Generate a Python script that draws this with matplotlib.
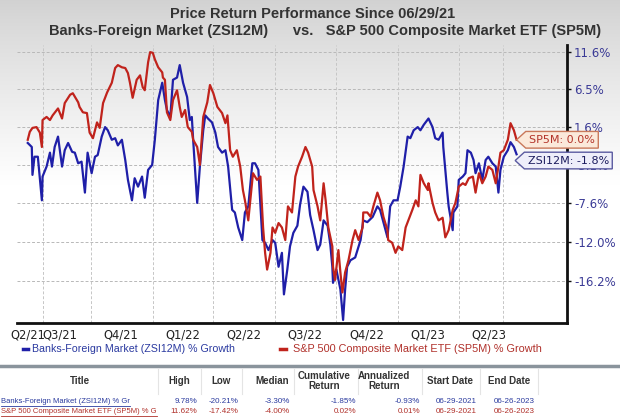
import numpy as np
import pandas as pd
import matplotlib
matplotlib.use("Agg")
import matplotlib.pyplot as plt
from matplotlib.path import Path
from matplotlib.lines import Line2D

# ---------------- data ----------------
start_date = "2021-06-29"
end_date = "2023-06-26"

zsi_days = [0, 6, 7, 10, 15, 21, 22, 28, 33, 36, 40, 45, 51, 55, 60, 66, 70, 75, 80, 85,
            89, 95, 100, 104, 110, 115, 119, 125, 130, 134, 140, 145, 149, 155, 159, 164, 170, 174, 179, 185,
            189, 194, 200, 204, 207, 212, 216, 222, 226, 231, 237, 241, 244, 246, 252, 256, 261, 264, 268, 274,
            279, 283, 289, 294, 298, 304, 308, 313, 319, 323, 328, 334, 338, 343, 349, 353, 358, 364, 368, 373,
            378, 381, 386, 390, 395, 401, 405, 410, 416, 420, 425, 431, 435, 440, 446, 450, 453, 454, 459, 465,
            469, 472, 475, 480, 487, 495, 499, 505, 513, 520, 524, 532, 535, 539, 544, 550, 554, 559, 565, 569,
            574, 580, 584, 589, 596, 602, 606, 611, 617, 618, 624, 626, 632, 633, 639, 641, 647, 651, 654, 659,
            663, 666, 671, 676, 681, 685, 691, 696, 700, 703, 708, 714, 718, 723, 727]
zsi_vals = [-0.4, -0.9, -4.3, -2.1, -2.1, -7.3, -4.5, -3.3, -1.6, -3.3, -0.9, 0.4, -3.3, -1.3, -0.4, -1.5, -1.6, -2.9, -2.7, -6.4,
            -1.6, -4.1, -2.1, -1.9, 0.4, 1.6, 1.2, 0.0, 0.2, -0.7, 0.0, -2.5, -4.9, -7.3, -4.7, -5.7, -4.5, -7.0, -3.7, -3.1,
            0.0, 5.1, 7.4, 5.1, 3.8, 2.9, 7.8, 8.1, 9.8, 7.4, 5.5, 2.5, 2.9, 0.0, -7.6, -3.3, 1.2, 3.1, 2.7, 2.2,
            0.9, -0.9, -1.6, -1.3, -3.3, -8.4, -8.7, -10.4, -11.8, -8.7, -8.0, -2.9, -2.9, -3.7, -11.8, -12.1, -12.9, -11.8, -12.1, -14.7,
            -13.2, -17.6, -15.0, -12.5, -11.0, -10.2, -7.8, -5.7, -6.3, -9.0, -10.7, -12.9, -12.3, -9.6, -10.2, -12.3, -14.7, -16.4, -15.0, -17.1,
            -20.2, -17.1, -14.7, -14.0, -13.7, -11.8, -9.6, -9.8, -9.2, -8.0, -8.4, -10.7, -11.5, -8.0, -7.3, -7.3, -5.7, -3.3, 0.4, 0.2,
            1.2, 1.6, 1.2, 1.9, 2.7, 1.6, 0.2, 0.0, 0.9, -0.9, -6.4, -8.0, -10.7, -8.7, -8.0, -4.9, -4.5, -4.1, -1.3, -1.6,
            -2.5, -4.1, -2.9, -4.9, -2.5, -2.1, -2.9, -3.3, -6.4, -3.7, -2.1, -1.3, -0.3, -0.9, -1.8]

sp5_days = [0, 3, 7, 13, 18, 21, 22, 28, 33, 37, 45, 51, 55, 63, 67, 75, 77, 82, 88, 92,
            97, 103, 107, 112, 118, 125, 130, 134, 140, 145, 149, 152, 156, 162, 167, 171, 174, 179, 182, 186,
            189, 194, 200, 201, 204, 207, 212, 216, 222, 226, 229, 234, 238, 244, 246, 252, 256, 261, 267, 271,
            276, 282, 289, 294, 297, 301, 305, 311, 316, 320, 323, 328, 331, 335, 341, 346, 350, 353, 356, 361,
            364, 368, 373, 378, 383, 387, 393, 398, 402, 408, 413, 417, 423, 425, 431, 435, 440, 443, 447, 453,
            454, 457, 462, 465, 468, 472, 477, 483, 487, 492, 498, 499, 505, 510, 514, 520, 524, 529, 535, 536,
            542, 547, 551, 557, 562, 566, 572, 577, 581, 584, 589, 595, 596, 602, 606, 611, 617, 621, 626, 632,
            636, 641, 647, 651, 656, 662, 666, 671, 676, 681, 685, 691, 696, 700, 703, 708, 714, 718, 723, 727]
sp5_vals = [0.0, 1.0, 1.5, 1.6, 0.9, -0.9, 2.5, 2.9, 2.5, 3.1, 4.0, 2.7, 4.7, 5.8, 6.0, 4.8, 4.2, 3.5, 3.4, 0.9,
            0.2, 2.2, 1.5, 4.7, 6.1, 7.4, 9.4, 9.8, 9.5, 9.4, 8.7, 7.4, 5.4, 7.8, 8.4, 6.8, 6.4, 10.2, 11.6, 11.5,
            10.6, 9.5, 8.8, 8.1, 7.8, 3.5, 2.5, 5.1, 6.4, 4.2, 2.9, 3.8, 1.6, 1.0, 0.0, -0.9, -3.1, 2.9, 4.8, 7.1,
            6.0, 4.2, 3.4, 2.1, 3.1, -1.3, -2.1, -1.3, -3.3, -6.1, -7.3, -9.6, -7.3, -4.1, -4.9, -4.5, -10.4, -13.2, -15.0, -13.2,
            -10.4, -11.0, -9.9, -10.4, -11.8, -8.0, -8.7, -4.5, -3.3, -2.1, -0.9, -1.6, -3.3, -6.1, -8.0, -9.6, -5.3, -7.3, -10.4, -12.5,
            -14.7, -16.1, -12.9, -15.3, -17.4, -15.3, -14.0, -11.8, -10.7, -11.8, -10.4, -8.7, -8.7, -9.2, -8.0, -6.4, -7.3, -9.2, -10.7, -11.8,
            -12.1, -13.2, -12.5, -12.9, -10.4, -9.6, -8.4, -7.3, -8.0, -4.3, -5.3, -6.1, -5.3, -7.6, -8.7, -9.6, -9.3, -11.5, -10.7, -8.4,
            -7.6, -5.7, -5.3, -5.5, -4.7, -4.5, -6.4, -4.1, -5.3, -4.5, -3.3, -3.7, -5.3, -3.3, -1.6, -1.3, 0.0, 2.1, 1.2, 0.0]

y_ticks = [11.6, 6.5, 1.6, -3.1, -7.6, -12.0, -16.2]
y_tick_labels = ["11.6%", "6.5%", "1.6%", "-3.1%", "-7.6%", "-12.0%", "-16.2%"]
quarter_labels = ["Q2/21", "Q3/21", "Q4/21", "Q1/22", "Q2/22", "Q3/22", "Q4/22", "Q1/23", "Q2/23"]
quarter_label_dates = ["2021-06-29", "2021-08-15", "2021-11-15", "2022-02-14", "2022-05-16",
                       "2022-08-15", "2022-11-15", "2023-02-14", "2023-05-16"]
grid_dates = ["2021-07-21", "2021-10-01", "2022-01-01", "2022-04-01", "2022-07-01",
              "2022-10-01", "2023-01-01", "2023-04-01", "2023-06-06"]
x_limit_dates = ["2021-06-13", "2023-09-09"]
y_limits = [-20.5, 12.6]

zsi_name = "Banks-Foreign Market (ZSI12M) % Growth"
sp5_name = "S&P 500 Composite Market ETF (SP5M) % Growth"
zsi_tag = "ZSI12M: -1.8%"
sp5_tag = "SP5M: 0.0%"

table_header = ["Title", "High", "Low", "Median", "Cumulative\nReturn", "Annualized\nReturn", "Start Date", "End Date"]
table_rows = [
    ["Banks-Foreign Market (ZSI12M) % Gr", "9.78%", "-20.21%", "-3.30%", "-1.85%", "-0.93%", "06-29-2021", "06-26-2023"],
    ["S&P 500 Composite Market ETF (SP5M) % G", "11.62%", "-17.42%", "-4.00%", "0.02%", "0.01%", "06-29-2021", "06-26-2023"],
]

# ---------------- styles ----------------
BLUE = "#1f1fa8"
RED = "#c0231c"
W, H = 620, 419
start = pd.Timestamp(start_date)


def to_day(d):
    return (pd.Timestamp(d) - start).days


def fx(px):
    return px / W


def fy(py):
    return 1 - py / H


fig = plt.figure(figsize=(W / 100, H / 100), dpi=100)

# background gradient
bg = fig.add_axes([0, 0, 1, 1], zorder=-10)
rows = np.arange(H)
g = 0.82 + 0.18 * np.clip(rows / 185.0, 0, 1) ** 0.85
img = np.repeat(g[:, None], 4, axis=1)
bg.imshow(np.dstack([img, img, img]), aspect="auto", extent=[0, 1, 0, 1])
bg.set_axis_off()

ax = fig.add_axes([fx(17), fy(323), fx(567) - fx(17), fy(45) - fy(323)])
ax.set_facecolor("none")


def fwd(v):
    return np.log1p(np.asarray(v, dtype=float) / 100.0)


def inv(z):
    return 100.0 * np.expm1(z)


ax.set_yscale("function", functions=(fwd, inv))
ax.set_ylim(*y_limits)
ax.set_xlim(to_day(x_limit_dates[0]), to_day(x_limit_dates[1]))

ax.plot(zsi_days, zsi_vals, color=BLUE, lw=1.6, solid_joinstyle="round", zorder=3)
ax.plot(sp5_days, sp5_vals, color=RED, lw=1.6, solid_joinstyle="round", zorder=4)

# grid
for v in y_ticks:
    ax.axhline(v, color="#b8b8b8", lw=0.7, ls=(0, (3, 2)), zorder=1)
for d in grid_dates:
    ax.axvline(to_day(d), color="#c6c6c6", lw=0.7, ls=(0, (3, 2)), zorder=1)

# axes
for s in ["left", "top"]:
    ax.spines[s].set_visible(False)
for s in ["right", "bottom"]:
    ax.spines[s].set_linewidth(2.0)
    ax.spines[s].set_color("#111111")
ax.yaxis.tick_right()
ax.set_yticks(y_ticks)
ax.set_yticklabels(y_tick_labels)
ax.yaxis.set_minor_locator(matplotlib.ticker.NullLocator())
ax.tick_params(axis="y", direction="out", length=3, width=1, pad=2,
               labelsize=8.5, labelcolor="#3b3b96", colors="#111111")
ax.set_xticks([to_day(d) for d in quarter_label_dates])
ax.set_xticklabels(quarter_labels)
ax.tick_params(axis="x", length=0, pad=4, labelsize=8.3, labelcolor="#222222")
for lab in ax.get_yticklabels():
    lab.set_color("#3b3b96")


# tag-shaped labels
def tag_box(x0, y0, width, height, mutation_size):
    pad = 0.3 * mutation_size
    x0 -= pad
    y0 -= pad
    width += 2 * pad
    height += 2 * pad
    x1, y1 = x0 + width, y0 + height
    tip = height * 0.55
    verts = [(x0, y0), (x1, y0), (x1, y1), (x0, y1), (x0 - tip, (y0 + y1) / 2), (x0, y0)]
    return Path(verts, closed=True)


ax.annotate(sp5_tag, xy=(sp5_days[-1], sp5_vals[-1]), xytext=(9, 0), textcoords="offset points",
            ha="left", va="center", fontsize=8, color="#b3342a", annotation_clip=False, zorder=6,
            bbox=dict(boxstyle=tag_box, fc="#fbe9da", ec="#c9785a", lw=1.0))
ax.annotate(zsi_tag, xy=(zsi_days[-1], zsi_vals[-1]), xytext=(8, -4.5), textcoords="offset points",
            ha="left", va="center", fontsize=8, color="#1c1c5e", annotation_clip=False, zorder=6,
            bbox=dict(boxstyle=tag_box, fc="#eeeefa", ec="#5a5aa0", lw=1.0))

# titles
fig.text(fx(313), fy(14), "Price Return Performance Since 06/29/21", ha="center", va="center",
         fontsize=10.5, fontweight="bold", color="#333333", family="Liberation Sans")
fig.text(fx(325), fy(31), "Banks-Foreign Market (ZSI12M)      vs.   S&P 500 Composite Market ETF (SP5M)",
         ha="center", va="center", fontsize=10.5, fontweight="bold", color="#333333", family="Liberation Sans")

# legend
fig.add_artist(Line2D([fx(23), fx(28)], [fy(349), fy(349)], color=BLUE, lw=2.5))
fig.text(fx(32), fy(349), zsi_name, ha="left", va="center", fontsize=7.7, color="#2b3aa0",
         family="Liberation Sans")
fig.add_artist(Line2D([fx(280), fx(286)], [fy(349), fy(349)], color=RED, lw=2.5))
fig.text(fx(293), fy(349), sp5_name, ha="left", va="center", fontsize=7.85, color="#b0302a",
         family="Liberation Sans")

# table
fig.add_artist(Line2D([0, 1], [fy(365.5), fy(365.5)], color="#8a949c", lw=2.5))
header_x = [80, 179, 221, 272, 324, 384, 450, 509]
col_right = [197, 239, 290, 356, 420, 477, 535]
sep_x = [158, 201, 242, 294, 358, 422, 480, 538]
for sx in sep_x:
    fig.add_artist(Line2D([fx(sx), fx(sx)], [fy(369), fy(394)], color="#e4e4e4", lw=0.8))
for hx, htxt in zip(header_x, table_header):
    fig.text(fx(hx), fy(381), htxt, ha="center", va="center", fontsize=7, fontweight="bold",
             color="#333333", family="Liberation Sans", linespacing=1.0)
row_y = [401, 411]
row_colors = ["#2a3a9e", "#b0302a"]
renderer = fig.canvas.get_renderer()
for ry, row, rc in zip(row_y, table_rows, row_colors):
    t = fig.text(fx(1), fy(ry), row[0], ha="left", va="center", fontsize=5.5, color=rc,
                 family="Liberation Sans")
    bb = t.get_window_extent(renderer=renderer)
    fig.add_artist(Line2D([fx(1), fx(1 + bb.width)], [fy(ry + 4.5), fy(ry + 4.5)], color=rc, lw=0.6))
    for cx, val in zip(col_right, row[1:]):
        fig.text(fx(cx), fy(ry), val, ha="right", va="center", fontsize=5.8, color=rc,
                 family="Liberation Sans")

fig.savefig("out.png", dpi=100)
